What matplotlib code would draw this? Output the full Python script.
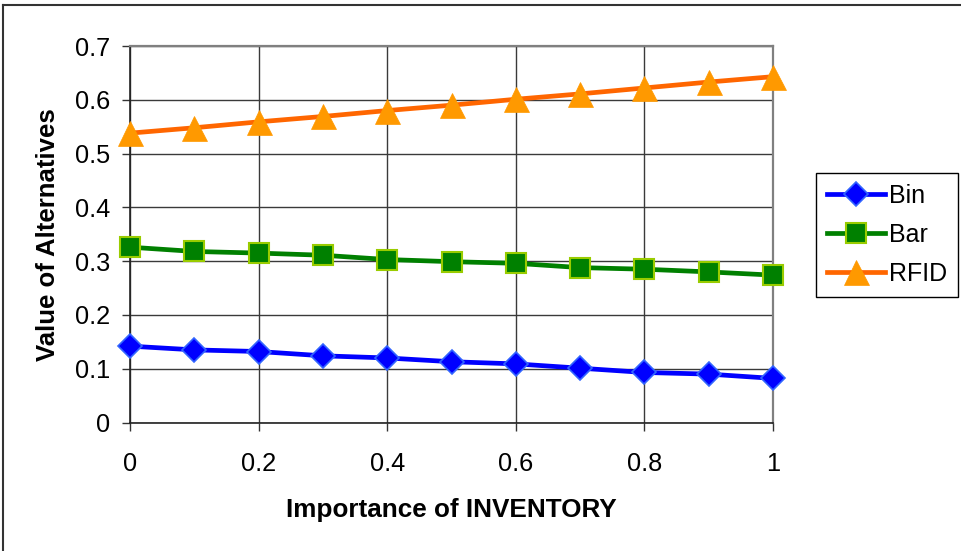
"""
Sensitivity of alternative values to the importance of inventory
"""

import matplotlib.pyplot as plt
from matplotlib.lines import Line2D

# Weight given to the INVENTORY criterion
importance = [0.0, 0.1, 0.2, 0.3, 0.4, 0.5, 0.6, 0.7, 0.8, 0.9, 1.0]

# Value of each alternative at each weight
bin_values = [0.142, 0.135, 0.132, 0.124, 0.120, 0.113, 0.109, 0.101, 0.093, 0.090, 0.082]
bar_values = [0.326, 0.318, 0.315, 0.311, 0.303, 0.299, 0.296, 0.288, 0.285, 0.280, 0.274]
rfid_values = [0.538, 0.548, 0.559, 0.569, 0.580, 0.590, 0.601, 0.611, 0.622, 0.633, 0.643]

x_ticks = [0, 0.2, 0.4, 0.6, 0.8, 1]
x_tick_labels = ["0", "0.2", "0.4", "0.6", "0.8", "1"]
y_ticks = [0, 0.1, 0.2, 0.3, 0.4, 0.5, 0.6, 0.7]
y_tick_labels = ["0", "0.1", "0.2", "0.3", "0.4", "0.5", "0.6", "0.7"]

plt.rcParams["font.family"] = ["Liberation Sans", "DejaVu Sans"]

fig = plt.figure(figsize=(9.61, 5.51), dpi=100)
ax = fig.add_axes([0.1353, 0.2332, 0.6691, 0.6833])

ax.plot(importance, bin_values, color="#0000ff", lw=3.4, marker="D", ms=12,
        mfc="#0000ff", mec="#3366ff", mew=1.2, label="Bin", zorder=3, clip_on=False)
ax.plot(importance, bar_values, color="#008000", lw=3.4, marker="s", ms=15,
        mfc="#008000", mec="#99cc00", mew=1.5, label="Bar", zorder=3, clip_on=False)
ax.plot(importance, rfid_values, color="#ff6600", lw=3.4, marker="^", ms=18,
        mfc="#ff9900", mec="#ff9900", mew=0.5, label="RFID", zorder=3, clip_on=False)

ax.set_xlim(0, 1)
ax.set_ylim(0, 0.7)
ax.set_xticks(x_ticks)
ax.set_xticklabels(x_tick_labels)
ax.set_yticks(y_ticks)
ax.set_yticklabels(y_tick_labels)
ax.tick_params(axis="both", labelsize=18.3, length=6, width=1, color="#333333")
ax.tick_params(axis="x", pad=15)
ax.tick_params(axis="y", pad=8)

ax.grid(True, color="#3a3a3a", lw=1)
ax.set_axisbelow(True)
for side in ["left", "bottom"]:
    ax.spines[side].set_color("#222222")
    ax.spines[side].set_linewidth(1.2)
for side in ["top", "right"]:
    ax.spines[side].set_color("#808080")
    ax.spines[side].set_linewidth(1.6)

ax.set_xlabel("Importance of INVENTORY", fontsize=18.8, fontweight="bold", labelpad=16)
ax.set_ylabel("Value of Alternatives", fontsize=18.5, fontweight="bold", labelpad=11)

legend = ax.legend(loc="center left", bbox_to_anchor=(1.067, 0.498), fontsize=18,
                   frameon=True, fancybox=False, edgecolor="black", framealpha=1,
                   handlelength=2.3, handletextpad=0.15, borderpad=0.45,
                   labelspacing=0.6, borderaxespad=0)
legend.get_frame().set_linewidth(1)

# Chart border: left and top edges, the rest runs off the canvas
left_x = 2.5 / 961
top_y = 1 - 5 / 551
fig.add_artist(Line2D([left_x, left_x], [0, top_y], transform=fig.transFigure,
                      color="#333333", lw=1.5))
fig.add_artist(Line2D([left_x, 1], [top_y, top_y], transform=fig.transFigure,
                      color="#333333", lw=1.5))

fig.savefig("out.png", dpi=100)
